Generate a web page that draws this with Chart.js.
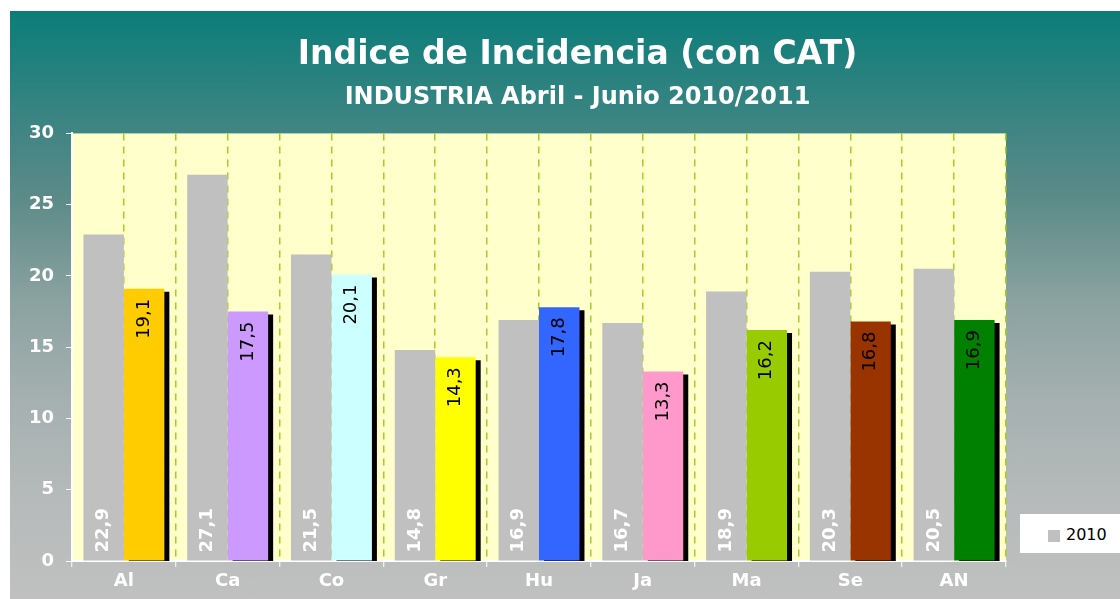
<!DOCTYPE html>
<html>
<head>
    <title>Indice de Incidencia</title>
    <script src="https://cdn.jsdelivr.net/npm/chart.js"></script>
    <style>
        body { margin: 0; background: #fff; }
        #chartContainer {
            position: absolute;
            left: 10px;
            top: 11px;
            width: 1110px;
            height: 588px;
            background: linear-gradient(to bottom,
                rgb(10,125,121) 0%, rgb(63,133,131) 20%, rgb(92,139,136) 32%,
                rgb(138,162,160) 49%, rgb(165,176,176) 66%, rgb(182,186,186) 83%,
                rgb(192,192,192) 100%);
        }
        #legend {
            position: absolute;
            left: 1010px;
            top: 503px;
            width: 100px;
            height: 39px;
            background: #fff;
            font-family: "DejaVu Sans", Verdana, sans-serif;
            font-size: 16px;
            line-height: 16px;
            color: #000;
        }
        #legend .box { position: absolute; left: 28px; top: 16px; width: 12px; height: 12px; }
        #legend .txt { position: absolute; left: 46px; top: 13px; }
    </style>
</head>
<body>
    <div id="chartContainer">
        <canvas id="myChart"></canvas>
        <div id="legend"></div>
    </div>
    <script>
        const categories = ['Al', 'Ca', 'Co', 'Gr', 'Hu', 'Ja', 'Ma', 'Se', 'AN'];
        const values2010 = [22.9, 27.1, 21.5, 14.8, 16.9, 16.7, 18.9, 20.3, 20.5];
        const values2011 = [19.1, 17.5, 20.1, 14.3, 17.8, 13.3, 16.2, 16.8, 16.9];
        const seriesLabels = ['2010', '2011'];
        const color2010 = '#c0c0c0';
        const colors2011 = ['#ffcc00', '#cc99ff', '#ccffff', '#ffff00', '#3366ff', '#ff99cc', '#99cc00', '#993300', '#008000'];
        const gridGreen = '#a3d01a';

        Chart.defaults.font.family = '"DejaVu Sans", Verdana, sans-serif';

        // fondo amarillo del area de trazado
        const plotBackground = {
            id: 'plotBackground',
            beforeDraw(chart) {
                const {ctx, chartArea: a} = chart;
                ctx.save();
                ctx.fillStyle = '#ffffcc';
                ctx.fillRect(a.left, a.top, a.right - a.left, a.bottom - a.top);
                ctx.restore();
            }
        };

        // sombra negra de las barras 2011
        const barShadow = {
            id: 'barShadow',
            beforeDatasetDraw(chart, args) {
                if (args.index !== 1) return;
                const ctx = chart.ctx;
                ctx.save();
                ctx.shadowColor = '#000';
                ctx.shadowOffsetX = 5;
                ctx.shadowOffsetY = 3;
                ctx.shadowBlur = 0;
            },
            afterDatasetDraw(chart, args) {
                if (args.index !== 1) return;
                chart.ctx.restore();
            }
        };

        const valueLabels = {
            id: 'valueLabels',
            afterDatasetsDraw(chart) {
                const ctx = chart.ctx;
                chart.data.datasets.forEach((ds, i) => {
                    chart.getDatasetMeta(i).data.forEach((bar, j) => {
                        const text = ds.data[j].toFixed(1).replace('.', ',');
                        ctx.save();
                        if (i === 0) {
                            ctx.translate(bar.x, bar.base - 8);
                            ctx.textAlign = 'left';
                            ctx.fillStyle = '#fff';
                            ctx.font = 'bold 18px "DejaVu Sans"';
                        } else {
                            ctx.translate(bar.x, bar.y + 10);
                            ctx.textAlign = 'right';
                            ctx.fillStyle = '#000';
                            ctx.font = '18px "DejaVu Sans"';
                        }
                        ctx.rotate(-Math.PI / 2);
                        ctx.textBaseline = 'middle';
                        ctx.fillText(text, 0, 0);
                        ctx.restore();
                    });
                });
            }
        };

        const ctx = document.getElementById('myChart').getContext('2d');
        new Chart(ctx, {
            type: 'bar',
            data: {
                labels: categories,
                datasets: [{
                    label: seriesLabels[0],
                    data: values2010,
                    backgroundColor: color2010,
                    categoryPercentage: 0.78,
                    barPercentage: 1
                }, {
                    label: seriesLabels[1],
                    data: values2011,
                    backgroundColor: colors2011,
                    categoryPercentage: 0.78,
                    barPercentage: 1,
                    clip: {left: 10, top: 10, right: 10, bottom: 0}
                }]
            },
            options: {
                responsive: true,
                maintainAspectRatio: false,
                animation: false,
                // padding negativo a la derecha para centrar el titulo como en el original
                layout: { padding: {left: 0, right: -25, top: 0, bottom: 0} },
                plugins: {
                    legend: { display: false },
                    tooltip: { enabled: false },
                    title: {
                        display: true,
                        text: 'Indice de Incidencia (con CAT)',
                        color: '#fff',
                        font: {size: 33, weight: 'bold'},
                        padding: {top: 25, bottom: 8}
                    },
                    subtitle: {
                        display: true,
                        text: 'INDUSTRIA Abril - Junio 2010/2011',
                        color: '#fff',
                        font: {size: 24, weight: 'bold'},
                        padding: {top: 0, bottom: 21}
                    }
                },
                scales: {
                    x: {
                        grid: {
                            offset: true,
                            color: c => c.index === 0 ? 'rgba(0,0,0,0)' : (c.index === categories.length ? 'rgba(255,255,255,0.7)' : gridGreen),
                            lineWidth: 1.5,
                            tickColor: '#fff',
                            tickLength: 6,
                            tickWidth: 1
                        },
                        border: { color: '#fff', width: 2, dash: [7, 6] },
                        ticks: { color: '#fff', font: {size: 18, weight: 'bold'}, padding: 4 },
                        afterFit(scale) { scale.height = 38; }
                    },
                    xMid: {
                        type: 'category',
                        position: 'bottom',
                        offset: true,
                        grid: { offset: false, color: gridGreen, lineWidth: 1.5, drawTicks: false },
                        border: { display: false, dash: [7, 6] },
                        ticks: { display: false },
                        afterFit(scale) { scale.height = 0; }
                    },
                    y: {
                        min: 0,
                        max: 30,
                        ticks: { stepSize: 5, color: '#fff', font: {size: 18, weight: 'bold'}, padding: 12 },
                        grid: { drawOnChartArea: false, tickColor: '#fff', tickLength: 6, tickWidth: 1 },
                        border: { color: '#fff', width: 2 },
                        afterFit(scale) { scale.width = 62; }
                    },
                    yRight: {
                        type: 'linear',
                        position: 'right',
                        ticks: { display: false },
                        grid: { display: false, drawTicks: false },
                        border: { display: false },
                        afterFit(scale) { scale.width = 139; }
                    }
                }
            },
            plugins: [plotBackground, barShadow, valueLabels]
        });

        // leyenda: solo aparece la serie 2010
        const legend = document.getElementById('legend');
        legend.innerHTML = '<span class="box" style="background:' + color2010 + '"></span><span class="txt">' + seriesLabels[0] + '</span>';
    </script>
</body>
</html>
